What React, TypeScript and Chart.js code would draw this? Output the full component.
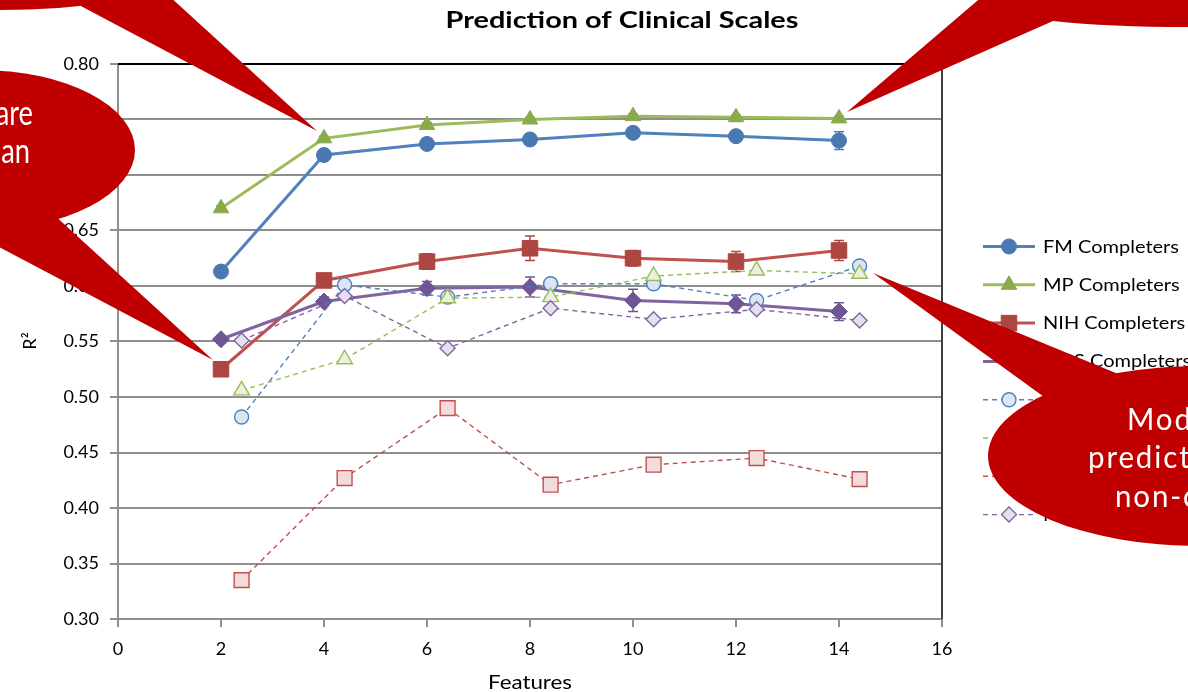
import React, { useEffect, useRef } from 'react';
import { Chart, registerables } from 'chart.js';

Chart.register(...registerables);

const features = [2, 4, 6, 8, 10, 12, 14];
const featuresNonCompleters = [2.4, 4.4, 6.4, 8.4, 10.4, 12.4, 14.4];

const fmCompleters = [0.613, 0.718, 0.728, 0.732, 0.738, 0.735, 0.731];
const mpCompleters = [0.670, 0.733, 0.745, 0.750, 0.753, 0.752, 0.751];
const nihCompleters = [0.525, 0.605, 0.622, 0.634, 0.625, 0.622, 0.632];
const mrsCompleters = [0.552, 0.586, 0.598, 0.599, 0.587, 0.584, 0.577];

const fmCompletersErr = [0.003, 0.003, 0.003, 0.003, 0.003, 0.003, 0.008];
const mpCompletersErr = [0.002, 0.002, 0.002, 0.002, 0.002, 0.002, 0.002];
const nihCompletersErr = [0.003, 0.004, 0.007, 0.011, 0.007, 0.009, 0.009];
const mrsCompletersErr = [0.003, 0.004, 0.006, 0.009, 0.010, 0.008, 0.008];

const fmNonCompleters = [0.482, 0.601, 0.590, 0.602, 0.602, 0.587, 0.618];
const mpNonCompleters = [0.506, 0.534, 0.589, 0.590, 0.609, 0.614, 0.611];
const nihNonCompleters = [0.335, 0.427, 0.490, 0.421, 0.439, 0.445, 0.426];
const mrsNonCompleters = [0.551, 0.591, 0.544, 0.580, 0.570, 0.579, 0.569];

const seriesLabels = [
  'FM Completers', 'MP Completers', 'NIH Completers', 'MRS Completers',
  'FM Non-completers', 'MP Non-completers', 'NIH Non-completers', 'MRS Non-completers',
];

const titleText = 'Prediction of Clinical Scales';
const xTitle = 'Features';
const yTitle = 'R²';
const calloutLeftLines = ['Scores are', 'better than'];
const calloutRightLines = ['Models have', 'prediction for', 'non-completers'];

const FONT = 'Lato, "Open Sans", sans-serif';
const GRID = '#8e8e8e';
const RED = '#C00000';

type Style = {
  line: string; fill: string; stroke: string; shape: string; radius: number;
  dashed: boolean; width: number;
};

const styles: Style[] = [
  { line: '#4F81BD', fill: '#4A78B0', stroke: '#4A78B0', shape: 'circle', radius: 7.5, dashed: false, width: 3 },
  { line: '#9BBB59', fill: '#8AAA4C', stroke: '#8AAA4C', shape: 'triangle', radius: 9, dashed: false, width: 3 },
  { line: '#C0504D', fill: '#AD4541', stroke: '#AD4541', shape: 'rect', radius: 11, dashed: false, width: 3 },
  { line: '#8064A2', fill: '#6F5595', stroke: '#6F5595', shape: 'rectRot', radius: 8.5, dashed: false, width: 3 },
  { line: '#4F81BD', fill: '#DCE6F2', stroke: '#4F81BD', shape: 'circle', radius: 7, dashed: true, width: 1.4 },
  { line: '#9BBB59', fill: '#EBF1DE', stroke: '#9BBB59', shape: 'triangle', radius: 9, dashed: true, width: 1.4 },
  { line: '#C0504D', fill: '#F2DCDB', stroke: '#C0504D', shape: 'rect', radius: 10.5, dashed: true, width: 1.4 },
  { line: '#8064A2', fill: '#E6E0EC', stroke: '#8064A2', shape: 'rectRot', radius: 7.5, dashed: true, width: 1.4 },
];

const seriesValues = [
  fmCompleters, mpCompleters, nihCompleters, mrsCompleters,
  fmNonCompleters, mpNonCompleters, nihNonCompleters, mrsNonCompleters,
];
const seriesErrors: (number[] | null)[] = [
  fmCompletersErr, mpCompletersErr, nihCompletersErr, mrsCompletersErr, null, null, null, null,
];

function drawText(ctx: CanvasRenderingContext2D, text: string, x: number, y: number,
  opts: { font: string; color: string; align?: string; sx?: number; spacing?: string; fitWidth?: number }) {
  ctx.save();
  ctx.font = opts.font;
  (ctx as any).letterSpacing = opts.spacing || '0px';
  ctx.fillStyle = opts.color;
  ctx.textBaseline = 'alphabetic';
  ctx.textAlign = 'left';
  const mw = ctx.measureText(text).width;
  const sx = opts.fitWidth ? opts.fitWidth / mw : (opts.sx || 1);
  const w = mw * sx;
  const x0 = opts.align === 'right' ? x - w : opts.align === 'center' ? x - w / 2 : x;
  ctx.translate(x0, y);
  ctx.scale(sx, 1);
  ctx.fillText(text, 0, 0);
  ctx.restore();
}

function drawMarker(ctx: CanvasRenderingContext2D, s: Style, x: number, y: number) {
  const r = s.radius;
  ctx.beginPath();
  if (s.shape === 'circle') {
    ctx.arc(x, y, r, 0, Math.PI * 2);
  } else if (s.shape === 'triangle') {
    for (let k = 0; k < 3; k++) {
      const a = (k * 2 * Math.PI) / 3;
      const px = x + Math.sin(a) * r;
      const py = y - Math.cos(a) * r;
      if (k === 0) ctx.moveTo(px, py); else ctx.lineTo(px, py);
    }
  } else if (s.shape === 'rect') {
    const h = r * Math.SQRT1_2;
    ctx.rect(x - h, y - h, 2 * h, 2 * h);
  } else {
    ctx.moveTo(x, y - r); ctx.lineTo(x + r, y); ctx.lineTo(x, y + r); ctx.lineTo(x - r, y);
  }
  ctx.closePath();
  ctx.fillStyle = s.fill;
  ctx.fill();
  ctx.lineWidth = s.dashed ? 1.4 : 1;
  ctx.strokeStyle = s.stroke;
  ctx.setLineDash([]);
  ctx.stroke();
}

function fillEllipse(ctx: CanvasRenderingContext2D, cx: number, cy: number, rx: number, ry: number) {
  ctx.beginPath();
  ctx.ellipse(cx, cy, rx, ry, 0, 0, Math.PI * 2);
  ctx.fill();
}
function fillPoly(ctx: CanvasRenderingContext2D, pts: number[][]) {
  ctx.beginPath();
  pts.forEach((p, i) => (i === 0 ? ctx.moveTo(p[0], p[1]) : ctx.lineTo(p[0], p[1])));
  ctx.closePath();
  ctx.fill();
}

const decorPlugin = {
  id: 'decor',
  beforeDraw(chart: any) {
    const ctx = chart.ctx;
    ctx.save();
    ctx.fillStyle = '#ffffff';
    ctx.fillRect(0, 0, chart.width, chart.height);
    ctx.restore();
  },
  beforeDatasetsDraw(chart: any) {
    const ctx = chart.ctx;
    const xs = chart.scales.x;
    const ys = chart.scales.y;
    ctx.save();
    chart.data.datasets.forEach((ds: any, i: number) => {
      const err = seriesErrors[i];
      if (!err) return;
      ctx.strokeStyle = styles[i].stroke;
      ctx.lineWidth = 1.5;
      ctx.setLineDash([]);
      ds.data.forEach((p: any, j: number) => {
        const px = xs.getPixelForValue(p.x);
        const top = ys.getPixelForValue(p.y + err[j]);
        const bot = ys.getPixelForValue(p.y - err[j]);
        ctx.beginPath();
        ctx.moveTo(px, top); ctx.lineTo(px, bot);
        ctx.moveTo(px - 5, top); ctx.lineTo(px + 5, top);
        ctx.moveTo(px - 5, bot); ctx.lineTo(px + 5, bot);
        ctx.stroke();
      });
    });
    ctx.restore();
  },
  afterDraw(chart: any) {
    const ctx = chart.ctx;
    const a = chart.chartArea;
    ctx.save();
    // plot area outline (top & right)
    ctx.setLineDash([]);
    ctx.strokeStyle = '#000000';
    ctx.lineWidth = 2;
    ctx.beginPath(); ctx.moveTo(a.left, a.top); ctx.lineTo(a.right, a.top); ctx.stroke();
    ctx.strokeStyle = '#404040';
    ctx.beginPath(); ctx.moveTo(a.right, a.top - 1); ctx.lineTo(a.right, a.bottom); ctx.stroke();

    // title
    drawText(ctx, titleText, 622, 28, { font: `bold 23px ${FONT}`, color: '#000', align: 'center', fitWidth: 353 });
    // axis titles
    drawText(ctx, xTitle, (a.left + a.right) / 2, 689, { font: `19px ${FONT}`, color: '#000', align: 'center', fitWidth: 84 });
    ctx.save();
    ctx.translate(36, 341);
    ctx.rotate(-Math.PI / 2);
    drawText(ctx, yTitle, 0, 0, { font: `18px ${FONT}`, color: '#000', align: 'center' });
    ctx.restore();

    // legend
    ctx.font = `18px ${FONT}`;
    const legendScale = 136 / ctx.measureText(seriesLabels[0]).width;
    seriesLabels.forEach((lab, i) => {
      const s = styles[i];
      const y = 246.5 + i * 38.3;
      ctx.save();
      ctx.strokeStyle = s.line;
      ctx.lineWidth = s.width;
      ctx.setLineDash(s.dashed ? [5, 4] : []);
      ctx.beginPath(); ctx.moveTo(983, y); ctx.lineTo(1035, y); ctx.stroke();
      ctx.restore();
      drawMarker(ctx, s, 1009, y);
      drawText(ctx, lab, 1043, y + 6, { font: `18px ${FONT}`, color: '#000', sx: legendScale });
    });

    // callouts
    ctx.fillStyle = RED;
    // top-left
    fillEllipse(ctx, 0, -100, 300, 110);
    fillPoly(ctx, [[60, -5], [317, 131], [168, -5]]);
    // left
    fillEllipse(ctx, -20, 150, 155, 80);
    fillPoly(ctx, [[30, 193], [213, 360], [-20, 237]]);
    // top-right
    ctx.beginPath();
    ctx.moveTo(984, -5);
    ctx.lineTo(847, 112);
    ctx.lineTo(1053, 21);
    ctx.quadraticCurveTo(1110, 27, 1188, 27);
    ctx.lineTo(1190, -5);
    ctx.closePath();
    ctx.fill();
    // right
    fillEllipse(ctx, 1200, 456, 212, 90);
    fillPoly(ctx, [[873, 273], [1140, 383], [1080, 423]]);

    drawText(ctx, calloutLeftLines[0], 33, 125, { font: `35px ${FONT}`, color: '#fff', align: 'right', sx: 0.78 });
    drawText(ctx, calloutLeftLines[1], 30, 163, { font: `35px ${FONT}`, color: '#fff', align: 'right', sx: 0.78 });
    drawText(ctx, calloutRightLines[0], 1127, 430, { font: `31px ${FONT}`, color: '#fff', spacing: '2px', sx: 0.95 });
    drawText(ctx, calloutRightLines[1], 1088, 468, { font: `31px ${FONT}`, color: '#fff', spacing: '2px', sx: 0.95 });
    drawText(ctx, calloutRightLines[2], 1115, 507, { font: `31px ${FONT}`, color: '#fff', spacing: '2px', sx: 0.95 });
    ctx.restore();
  },
};

export default function App() {
  const ref = useRef<HTMLCanvasElement | null>(null);
  useEffect(() => {
    if (!ref.current) return;
    const datasets = seriesValues.map((vals, i) => {
      const s = styles[i];
      const xs = i < 4 ? features : featuresNonCompleters;
      return {
        label: seriesLabels[i],
        data: vals.map((v, j) => ({ x: xs[j], y: v })),
        showLine: true,
        borderColor: s.line,
        borderWidth: s.width,
        borderDash: s.dashed ? [5, 4] : [],
        pointStyle: s.shape,
        pointRadius: s.radius,
        pointBackgroundColor: s.fill,
        pointBorderColor: s.stroke,
        pointBorderWidth: s.dashed ? 1.4 : 1,
        tension: 0,
        fill: false,
        order: 8 - i,
      };
    });
    const chart = new Chart(ref.current, {
      type: 'scatter',
      data: { datasets },
      options: {
        animation: false,
        responsive: false,
        devicePixelRatio: 1,
        layout: { padding: { left: 0, top: 64, right: 246, bottom: 0 } },
        plugins: { legend: { display: false }, title: { display: false }, tooltip: { enabled: false } },
        scales: {
          x: {
            type: 'linear', min: 0, max: 16,
            afterFit: (sc: any) => { sc.height = 73; },
            ticks: { stepSize: 2, color: '#000', font: { family: FONT, size: 18 }, padding: 11 },
            grid: { drawOnChartArea: false, drawTicks: true, tickLength: 8, color: GRID, lineWidth: 2 },
            border: { color: GRID, width: 2 },
          },
          y: {
            type: 'linear', min: 0.3, max: 0.8,
            afterFit: (sc: any) => { sc.width = 118; },
            ticks: {
              stepSize: 0.05, color: '#000', font: { family: FONT, size: 18 }, padding: 11,
              callback: (v: any) => Number(v).toFixed(2),
            },
            grid: { drawOnChartArea: true, drawTicks: true, tickLength: 8, color: GRID, lineWidth: 2 },
            border: { color: GRID, width: 2 },
          },
        },
      },
      plugins: [decorPlugin],
    } as any);
    return () => chart.destroy();
  }, []);
  return (
    <div style={{ position: 'fixed', left: 0, top: 0, width: 1188, height: 692, background: '#fff' }}>
      <canvas ref={ref} width={1188} height={692} style={{ width: 1188, height: 692, display: 'block' }} />
    </div>
  );
}
